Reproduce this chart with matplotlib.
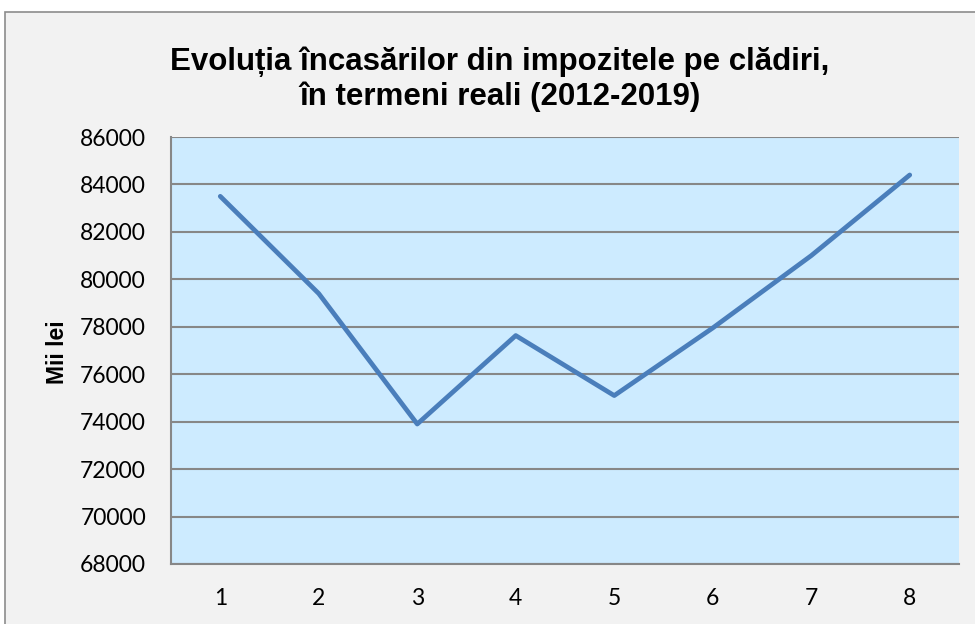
import matplotlib
matplotlib.use("Agg")
import matplotlib.pyplot as plt
from matplotlib.patches import Rectangle

categories = [1, 2, 3, 4, 5, 6, 7, 8]
values = [83500, 79400, 73900, 77630, 75100, 77950, 81000, 84400]
yticks = [68000, 70000, 72000, 74000, 76000, 78000, 80000, 82000, 84000, 86000]
title = "Evoluția încasărilor din impozitele pe clădiri,\nîn termeni reali (2012-2019)"
ylabel = "Mii lei"

W, H = 975, 624
fig = plt.figure(figsize=(W / 100, H / 100), dpi=100, facecolor="white")

# outer chart frame
frame = Rectangle((5 / W, -0.02), 1.0, 1 - 12 / H + 0.02, transform=fig.transFigure,
                  facecolor="#f2f2f2", edgecolor="#8c8c8c", linewidth=1.2, zorder=-10)
fig.patches.append(frame)

ax = fig.add_axes([171 / W, 1 - 564 / H, (959 - 171) / W, (564 - 137) / H])
ax.set_zorder(5)
ax.set_facecolor("#cdebff")

x = list(range(len(categories)))
ax.plot(x, values, color="#4a7ebb", linewidth=3.4, solid_capstyle="round",
        solid_joinstyle="round", zorder=3)

ax.set_xlim(-0.5, len(categories) - 0.5)
ax.set_ylim(68000, 86000)
ax.set_yticks(yticks)
ax.set_yticklabels([str(v) for v in yticks])
ax.set_xticks(x)
ax.set_xticklabels([str(c) for c in categories])
ax.yaxis.grid(True, color="#878787", linewidth=1.5)
ax.set_axisbelow(True)
ax.tick_params(axis="both", length=0, labelsize=16.5, labelcolor="black")
ax.tick_params(axis="y", pad=18)
ax.tick_params(axis="x", pad=17.5)
for lab in ax.get_xticklabels() + ax.get_yticklabels():
    lab.set_family("Lato")

for side in ["top", "right"]:
    ax.spines[side].set_visible(False)
for side in ["left", "bottom"]:
    ax.spines[side].set_color("#878787")
    ax.spines[side].set_linewidth(1.5)

fig.text(57 / W, 1 - 352 / H, ylabel, rotation=90, ha="center", va="center",
         fontsize=16.5, fontweight="bold", family="Liberation Sans")

fig.text(500 / W, 1 - 79 / H, title, ha="center", va="center", fontsize=22.5,
         fontweight="bold", family="Liberation Sans", linespacing=1.2)

fig.savefig("out.png", dpi=100, facecolor="white")
